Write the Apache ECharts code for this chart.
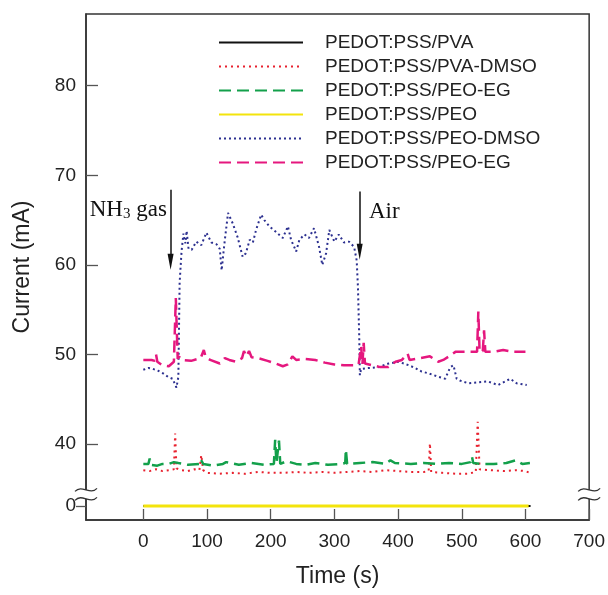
<!DOCTYPE html>
<html>
<head>
<meta charset="utf-8">
<script src="https://cdn.jsdelivr.net/npm/echarts@6/dist/echarts.min.js"></script>
<style>html,body{margin:0;padding:0;background:#fff}#c{width:608px;height:595px}</style>
</head>
<body>
<div id="c"></div>
<script>
// ---- data ----
const seriesNames = ['PEDOT:PSS/PVA','PEDOT:PSS/PVA-DMSO','PEDOT:PSS/PEO-EG','PEDOT:PSS/PEO','PEDOT:PSS/PEO-DMSO','PEDOT:PSS/PEO-EG '];
const xTicks = [0,100,200,300,400,500,600,700];
const yTickLabels = [0,40,50,60,70,80];
const yBreak = {start:0.8, end:34.9, gap:1};

const pva = [[0,0],[608,0]];
const peo = [[0,0],[605,0]];
const pvaDmso = [[0,37.1],[10,37.0],[20,37.2],[30,37.0],[40,37.1],[48,37.2],[50,41.2],[52,37.3],[60,37.1],[70,37.0],[80,37.2],[88,37.1],[91,38.8],[94,37.1],[100,36.8],[120,36.7],[140,36.8],[160,36.7],[180,36.9],[200,36.8],[220,36.8],[240,36.9],[260,36.8],[280,36.9],[300,36.8],[320,36.9],[340,37.0],[360,36.9],[380,37.1],[400,37.0],[420,36.9],[440,36.9],[448,37.0],[450,40.1],[452,36.9],[470,36.8],[490,36.7],[510,36.7],[522,36.9],[525,42.5],[528,37.2],[545,37.1],[565,37.0],[585,37.1],[600,37.0],[607,36.8]];
const peoEg1 = [[0,37.8],[8,37.8],[10,38.4],[12,37.7],[22,37.6],[30,37.8],[40,37.8],[48,38.0],[55,37.9],[70,37.7],[88,37.8],[90,38.3],[94,37.8],[110,37.6],[125,37.8],[130,38.0],[150,37.7],[170,37.9],[190,37.7],[205,37.8],[207,40.5],[209,37.9],[213,40.4],[215,37.8],[225,38.1],[240,37.8],[255,37.7],[270,37.9],[290,37.7],[310,37.8],[317,37.9],[318,39.4],[320,37.8],[340,37.9],[360,38.0],[380,37.8],[388,38.2],[395,37.9],[420,37.8],[440,37.9],[460,37.8],[480,37.9],[500,37.8],[514,38.0],[516,38.6],[518,37.9],[530,37.8],[550,37.8],[570,37.9],[585,38.2],[595,37.8],[607,37.9]];
const peoDmso = [[0,48.3],[8,48.5],[15,48.4],[23,48.2],[31,47.9],[39,47.5],[46,47.3],[52,46.3],[55,47.5],[57,58.0],[60,61.5],[63,63.5],[66,62.4],[68,63.8],[71,61.8],[76,61.7],[83,62.6],[91,62.2],[99,63.6],[107,62.5],[115,62.3],[120,61.8],[123,59.4],[126,61.5],[128,62.8],[133,65.8],[140,64.7],[148,63.1],[156,60.9],[161,61.3],[167,62.8],[172,62.5],[177,63.9],[185,65.6],[190,65.0],[198,64.3],[208,63.7],[219,63.0],[227,64.3],[232,62.8],[240,61.5],[245,62.8],[253,63.4],[260,63.0],[268,64.1],[276,62.0],[281,60.0],[287,61.3],[292,63.9],[300,62.6],[307,63.4],[315,62.5],[323,62.6],[331,62.0],[335,60.5],[337,57.5],[339,52.0],[340,47.7],[342,48.4],[354,48.5],[370,48.6],[385,49.0],[401,49.2],[417,48.8],[427,48.5],[437,48.1],[448,47.9],[464,47.5],[474,47.3],[482,48.6],[487,48.8],[492,47.3],[497,47.1],[510,46.8],[526,46.9],[541,47.0],[557,46.6],[568,47.0],[576,47.3],[586,46.8],[602,46.6]];
const peoEg2 = [[0,49.4],[13,49.4],[18,49.3],[20,50.0],[22,49.2],[30,48.8],[40,48.7],[48,49.2],[51,56.3],[54,49.5],[56,49.8],[60,49.4],[75,49.3],[90,49.6],[95,50.5],[98,49.7],[105,49.4],[120,49.0],[128,49.6],[135,49.4],[145,49.2],[155,49.6],[158,50.4],[162,49.8],[166,50.4],[170,49.7],[180,49.6],[195,49.3],[208,49.0],[219,48.7],[227,48.9],[234,49.8],[240,49.4],[255,49.5],[270,49.4],[285,49.1],[300,48.9],[315,48.8],[330,48.8],[338,48.9],[342,50.9],[344,48.9],[346,51.3],[348,49.0],[360,48.8],[372,48.6],[385,48.6],[396,49.2],[406,49.4],[415,50.1],[418,49.4],[435,49.6],[450,49.8],[463,49.2],[471,49.4],[480,49.8],[490,50.3],[510,50.3],[524,50.3],[526,54.8],[528,50.3],[533,50.4],[535,52.7],[537,50.3],[550,50.3],[565,50.5],[580,50.3],[600,50.3]];

// annotations: [time, topValue, arrowEndValue], label anchor [time, value]
const nh3Arrow = [42.8, 68.4, 60.36];
const airArrow = [339.7, 68.2, 61.47];
const nh3Label = [37, 66.16];
const airLabel = [354.2, 65.9];

// ---- chart ----
const AX = '#333';
const SANS = 'Liberation Sans, Arial, sans-serif';
const SERIF = 'Liberation Serif, Times New Roman, serif';

function lineSeries(name, data, color, width, type, extra) {
  return Object.assign({
    name, type:'line', data, symbol:'none', showSymbol:false, animation:false,
    lineStyle:{color, width, type}, itemStyle:{color}
  }, extra || {});
}

const arrowLine = (a) => [
  {coord:[a[0], a[1]], symbol:'none'},
  {coord:[a[0], a[2]], symbol:'triangle', symbolSize:[6,16]}
];

const option = {
  animation:false,
  grid:{left:86, right:16, top:14, bottom:75, show:true, borderColor:AX, borderWidth:1.5, backgroundColor:'transparent'},
  legend:{
    orient:'vertical', left:218, top:33, padding:0, itemWidth:84, itemHeight:14, itemGap:5,
    selectedMode:false,
    itemStyle:{opacity:0, borderWidth:0},
    textStyle:{fontSize:19, lineHeight:19, color:'#222', fontFamily:SANS, padding:[0,0,0,17]},
    data:seriesNames
  },
  xAxis:{
    type:'value', min:-90, max:700,
    name:'Time (s)', nameLocation:'middle', nameGap:45,
    nameTextStyle:{fontSize:23, color:'#222', fontFamily:SANS},
    axisLine:{onZero:false, lineStyle:{color:AX, width:1.5}},
    axisTick:{inside:true, length:11, customValues:xTicks, lineStyle:{color:'#555', width:1.3}},
    axisLabel:{customValues:xTicks, fontSize:19, color:'#222', margin:12, fontFamily:SANS},
    splitLine:{show:false}
  },
  yAxis:[{
    type:'value', min:-1.56, max:88,
    breaks:[yBreak], breakArea:{show:false},
    name:'Current (mA)', nameLocation:'middle', nameGap:52,
    nameTextStyle:{fontSize:23, color:'#222', fontFamily:SANS},
    axisLine:{show:true, onZero:false, lineStyle:{color:AX, width:1.5}},
    axisTick:{inside:true, length:12, customValues:yTickLabels.filter(v => v !== 0), lineStyle:{color:'#555', width:1.3}},
    axisLabel:{customValues:yTickLabels, fontSize:19, color:'#222', margin:10, fontFamily:SANS},
    splitLine:{show:false}
  },{
    type:'value', min:-1.56, max:88, position:'left',
    breaks:[yBreak], breakArea:{show:false},
    axisLine:{show:false, onZero:false},
    axisTick:{show:true, inside:false, length:10, customValues:[0], lineStyle:{color:'#555', width:1.3}},
    axisLabel:{show:false}, splitLine:{show:false}
  }],
  series:[
    lineSeries(seriesNames[0], pva, '#111', 2, 'solid'),
    lineSeries(seriesNames[1], pvaDmso, '#e8212e', 2, [2,4]),
    lineSeries(seriesNames[2], peoEg1, '#13a04b', 2.5, [12,6]),
    lineSeries(seriesNames[3], peo, '#f3e40c', 3, 'solid'),
    lineSeries(seriesNames[4], peoDmso, '#2b2f8f', 2, [2,3], {
      markLine:{
        silent:true, animation:false,
        lineStyle:{color:'#111', width:1.5, type:'solid'},
        itemStyle:{color:'#111'},
        label:{show:false},
        data:[arrowLine(nh3Arrow), arrowLine(airArrow)]
      }
    }),
    lineSeries(seriesNames[5], peoEg2, '#e5177e', 2.5, [12,6])
  ]
};

const chart = echarts.init(document.getElementById('c'), null, {renderer:'canvas'});
chart.setOption(option);

// decorations: axis-break marks and annotation texts, positioned through the axes
const toPx = (x, y) => chart.convertToPixel({xAxisIndex:0, yAxisIndex:0}, [x, y]);
const leftX = toPx(-90, 40)[0];
const rightX = toPx(700, 40)[0];
const yA = toPx(0, yBreak.end)[1];
const yB = toPx(0, yBreak.start)[1];
const graphics = [];
[leftX, rightX].forEach(cx => {
  graphics.push({type:'rect', z:100, shape:{x:cx-2, y:yA, width:4, height:yB-yA}, style:{fill:'#fff'}});
  [yA, yB].forEach(cy => {
    graphics.push({type:'bezierCurve', z:101, shape:{x1:cx-11, y1:cy+1.5, cpx1:cx-4, cpy1:cy-6, cpx2:cx+4, cpy2:cy+6, x2:cx+11, y2:cy-1.5},
      style:{stroke:AX, lineWidth:1.3, fill:null}});
  });
});
const p1 = toPx(nh3Label[0], nh3Label[1]);
graphics.push({type:'text', z:101, x:p1[0], y:p1[1], style:{
  text:'{n|NH}{s|3}{n| gas}', align:'right', verticalAlign:'middle',
  rich:{n:{fontSize:23, fontFamily:SERIF, fill:'#111'}, s:{fontSize:15, fontFamily:SERIF, fill:'#111', verticalAlign:'bottom'}}
}});
const p2 = toPx(airLabel[0], airLabel[1]);
graphics.push({type:'text', z:101, x:p2[0], y:p2[1], style:{
  text:'Air', align:'left', verticalAlign:'middle', fontSize:23, fontFamily:SERIF, fill:'#111'
}});
chart.setOption({graphic:graphics});
</script>
</body>
</html>
